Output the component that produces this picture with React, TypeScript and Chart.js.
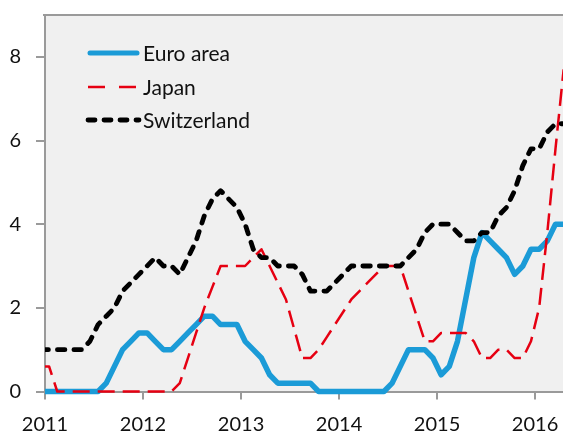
import React, { useEffect, useRef } from 'react';
import { Chart, registerables } from 'chart.js';

Chart.register(...registerables);

// First data point is December 2010, then monthly
const START_YEAR = 2010;
const START_MONTH = 12;

const seriesNames = ['Euro area', 'Japan', 'Switzerland'];

const euroArea = [
  0, 0, 0, 0, 0, 0, 0, 0, 0.2, 0.6, 1.0, 1.2, 1.4,
  1.4, 1.2, 1.0, 1.0, 1.2, 1.4, 1.6, 1.8, 1.8, 1.6, 1.6, 1.6,
  1.2, 1.0, 0.8, 0.4, 0.2, 0.2, 0.2, 0.2, 0.2, 0, 0, 0,
  0, 0, 0, 0, 0, 0, 0.2, 0.6, 1.0, 1.0, 1.0, 0.8, 0.4,
  0.6, 1.2, 2.2, 3.2, 3.8, 3.6, 3.4, 3.2, 2.8, 3.0, 3.4, 3.4,
  3.6, 4.0, 4.0, 4.2,
];

const japan = [
  0.6, 0.6, 0, 0, 0, 0, 0, 0, 0, 0, 0, 0, 0,
  0, 0, 0, 0, 0.2, 0.8, 1.4, 2.0, 2.5, 3.0, 3.0, 3.0,
  3.0, 3.2, 3.4, 3.0, 2.6, 2.2, 1.5, 0.8, 0.8, 1.0, 1.3, 1.6,
  1.9, 2.2, 2.4, 2.6, 2.8, 3.0, 3.0, 3.0, 2.4, 1.8, 1.2, 1.2,
  1.4, 1.4, 1.4, 1.4, 1.2, 0.8, 0.8, 1.0, 1.0, 0.8, 0.8, 1.2,
  2.0, 3.8, 5.8, 7.7,
];

const switzerland = [
  1.0, 1.0, 1.0, 1.0, 1.0, 1.0, 1.2, 1.6, 1.8, 2.0, 2.4, 2.6, 2.8,
  3.0, 3.2, 3.0, 3.0, 2.8, 3.2, 3.6, 4.2, 4.6, 4.8, 4.6, 4.4,
  4.0, 3.4, 3.2, 3.2, 3.0, 3.0, 3.0, 2.8, 2.4, 2.4, 2.4, 2.6,
  2.8, 3.0, 3.0, 3.0, 3.0, 3.0, 3.0, 3.0, 3.2, 3.4, 3.8, 4.0,
  4.0, 4.0, 3.8, 3.6, 3.6, 3.8, 3.8, 4.2, 4.4, 4.8, 5.4, 5.8,
  5.8, 6.2, 6.4, 6.4,
];

const xTickYears = [2011, 2012, 2013, 2014, 2015, 2016];
const yTickValues = [0, 2, 4, 6, 8];

const X_MIN = 2011;
const X_MAX = 2016.285;
const Y_MIN = 0;
const Y_MAX = 9;

const COLORS = ['#1b9bd7', '#e60012', '#000000'];
const WIDTHS = [5.5, 2.5, 4.8];
const DASHES: number[][] = [[], [17, 8], [7.5, 9]];
const CAPS = ['butt', 'butt', 'round'];
const LEGEND_DASHES: number[][] = [[], [17, 14], [7, 9]];

const FONT = 'Lato, "Open Sans", sans-serif';
const TEXT_COLOR = '#111111';
const AXIS_COLOR = '#9a9a9a';

function monthX(i: number): number {
  return START_YEAR + (START_MONTH - 1 + i + 0.5) / 12;
}

function toPoints(values: number[]) {
  return values.map((v, i) => ({ x: monthX(i), y: v }));
}

const backgroundAndLegend = {
  id: 'backgroundAndLegend',
  beforeDraw(chart: any) {
    const { ctx, chartArea: a } = chart;
    ctx.save();
    ctx.fillStyle = '#f0f0f0';
    ctx.fillRect(a.left, a.top, a.right - a.left, a.bottom - a.top);
    ctx.restore();
  },
  afterDraw(chart: any) {
    const { ctx, chartArea: a } = chart;
    ctx.save();
    // top border
    ctx.strokeStyle = AXIS_COLOR;
    ctx.lineWidth = 2;
    ctx.beginPath();
    ctx.moveTo(a.left - 2, a.top);
    ctx.lineTo(a.right, a.top);
    ctx.stroke();

    // legend
    const x0 = a.left + 43;
    const x1 = a.left + 94;
    const tx = a.left + 98;
    const rowsY = [a.top + 38, a.top + 72, a.top + 105];
    seriesNames.forEach((name, i) => {
      const y = rowsY[i];
      ctx.save();
      ctx.strokeStyle = COLORS[i];
      ctx.lineWidth = i === 0 ? 5 : WIDTHS[i];
      ctx.lineCap = i === 1 ? 'butt' : 'round';
      ctx.setLineDash(LEGEND_DASHES[i]);
      ctx.beginPath();
      ctx.moveTo(i === 0 ? x0 + 2 : x0, y);
      ctx.lineTo(i === 0 ? x1 - 2 : x1, y);
      ctx.stroke();
      ctx.restore();
      ctx.fillStyle = TEXT_COLOR;
      ctx.font = `21px ${FONT}`;
      ctx.textAlign = 'left';
      ctx.textBaseline = 'alphabetic';
      ctx.fillText(name, tx, y + 7.5);
    });
    ctx.restore();
  },
};

export default function App() {
  const canvasRef = useRef<HTMLCanvasElement | null>(null);

  useEffect(() => {
    document.body.style.margin = '0';
    const canvas = canvasRef.current;
    if (!canvas) return;
    const seriesValues = [euroArea, japan, switzerland];
    const chart = new Chart(canvas, {
      type: 'line',
      data: {
        datasets: seriesNames.map((name, i) => ({
          label: name,
          data: toPoints(seriesValues[i]),
          borderColor: COLORS[i],
          backgroundColor: COLORS[i],
          borderWidth: WIDTHS[i],
          borderDash: DASHES[i],
          borderCapStyle: CAPS[i] as any,
          borderJoinStyle: 'round' as any,
          pointRadius: 0,
          tension: 0,
          fill: false,
          order: 3 - i,
          clip: { left: 0, top: 0, right: 0, bottom: 5 } as any,
        })),
      },
      options: {
        responsive: false,
        devicePixelRatio: 1,
        animation: false,
        layout: { padding: { top: 15, right: 0, left: 0, bottom: 0 } },
        plugins: {
          legend: { display: false },
          tooltip: { enabled: false },
        },
        scales: {
          x: {
            type: 'linear',
            min: X_MIN,
            max: X_MAX,
            afterFit: (s: any) => {
              s.height = 43.5;
              s.paddingLeft = 0;
              s.paddingRight = 0;
              s.paddingTop = 0;
              s.paddingBottom = 0;
            },
            afterBuildTicks: (s: any) => {
              s.ticks = xTickYears.map((v) => ({ value: v }));
            },
            ticks: {
              callback: (v: any) => String(v),
              font: { family: FONT, size: 20 },
              color: TEXT_COLOR,
              padding: 13,
              maxRotation: 0,
              autoSkip: false,
            },
            grid: {
              drawOnChartArea: false,
              drawTicks: true,
              tickLength: 8,
              color: AXIS_COLOR,
              lineWidth: 2,
            },
            border: { display: true, color: AXIS_COLOR, width: 2 },
          },
          y: {
            type: 'linear',
            min: Y_MIN,
            max: Y_MAX,
            afterFit: (s: any) => {
              s.width = 45;
              s.paddingLeft = 0;
              s.paddingRight = 0;
              s.paddingTop = 0;
              s.paddingBottom = 0;
            },
            afterBuildTicks: (s: any) => {
              s.ticks = yTickValues.map((v) => ({ value: v }));
            },
            ticks: {
              callback: (v: any) => String(v),
              font: { family: FONT, size: 20 },
              color: TEXT_COLOR,
              padding: 15,
            },
            grid: {
              drawOnChartArea: false,
              drawTicks: true,
              tickLength: 9,
              color: AXIS_COLOR,
              lineWidth: 2,
            },
            border: { display: true, color: AXIS_COLOR, width: 2 },
          },
        },
      },
      plugins: [backgroundAndLegend],
    });
    return () => chart.destroy();
  }, []);

  return (
    <div style={{ width: 563, height: 435, position: 'relative' }}>
      <canvas ref={canvasRef} width={563} height={435} style={{ display: 'block' }} />
    </div>
  );
}
